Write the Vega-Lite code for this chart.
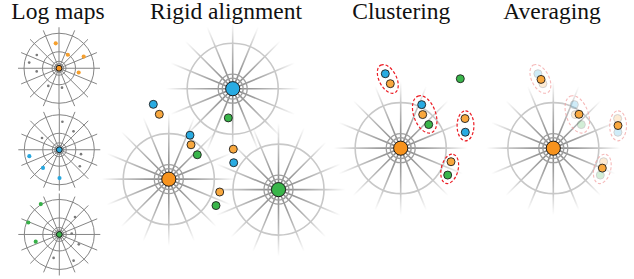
{
  "$schema": "https://vega.github.io/schema/vega-lite/v6.json",
  "width": 634,
  "height": 279,
  "autosize": {"type": "fit", "contains": "padding"},
  "padding": 0,
  "background": "white",
  "config": {"view": {"stroke": null}},
  "datasets": {
    "titles": [
      {"label": "Log maps", "x": 58, "y": 18.5},
      {"label": "Rigid alignment", "x": 226, "y": 18.5},
      {"label": "Clustering", "x": 401.3, "y": 18.5},
      {"label": "Averaging", "x": 552, "y": 18.5}
    ],
    "wheels": [
      {"kind": "log", "x": 59, "y": 67.5, "map": "orange", "spoke": 41, "r1": 4.5, "r2": 7, "r3": 16.5, "r4": 35},
      {"kind": "log", "x": 59.3, "y": 149.3, "map": "blue", "spoke": 41, "r1": 4.5, "r2": 7, "r3": 16.5, "r4": 35},
      {"kind": "log", "x": 59.3, "y": 234.3, "map": "green", "spoke": 41, "r1": 4.5, "r2": 7, "r3": 16.5, "r4": 35},
      {"kind": "soft", "x": 168.8, "y": 178.8, "map": "orange", "spoke": 67, "r1": 10.5, "r2": 14.5, "r3": null, "r4": 45.5},
      {"kind": "soft", "x": 278.5, "y": 189.3, "map": "green", "spoke": 67, "r1": 10.5, "r2": 14.5, "r3": null, "r4": 45.5},
      {"kind": "soft", "x": 232.7, "y": 88, "map": "blue", "spoke": 67, "r1": 10.5, "r2": 14.5, "r3": null, "r4": 45.5},
      {"kind": "soft", "x": 400.7, "y": 147.7, "map": "orange", "spoke": 67, "r1": 10.5, "r2": 14.5, "r3": null, "r4": 45.5},
      {"kind": "soft", "x": 553.3, "y": 147.7, "map": "orange", "spoke": 67, "r1": 10.5, "r2": 14.5, "r3": null, "r4": 45.5}
    ],
    "dots": [
      {"kind": "log", "map": "orange", "x": 55.7, "y": 42.5},
      {"kind": "log", "map": "orange", "x": 67.8, "y": 54},
      {"kind": "log", "map": "orange", "x": 83.7, "y": 55.8},
      {"kind": "log", "map": "orange", "x": 78.7, "y": 71.8},
      {"kind": "log", "map": "gray", "x": 36.8, "y": 54.2},
      {"kind": "log", "map": "gray", "x": 29.2, "y": 61.8},
      {"kind": "log", "map": "gray", "x": 36.7, "y": 70.7},
      {"kind": "log", "map": "gray", "x": 48.3, "y": 85.2},
      {"kind": "log", "map": "gray", "x": 62, "y": 87},
      {"kind": "log", "map": "gray", "x": 62.4, "y": 121.2},
      {"kind": "log", "map": "gray", "x": 73.5, "y": 130.8},
      {"kind": "log", "map": "gray", "x": 42, "y": 137.5},
      {"kind": "log", "map": "gray", "x": 81, "y": 153.7},
      {"kind": "log", "map": "gray", "x": 79.8, "y": 165.8},
      {"kind": "log", "map": "blue", "x": 29.3, "y": 155.7},
      {"kind": "log", "map": "blue", "x": 43, "y": 167.5},
      {"kind": "log", "map": "blue", "x": 59.5, "y": 177.7},
      {"kind": "log", "map": "green", "x": 40.8, "y": 203.8},
      {"kind": "log", "map": "green", "x": 28.3, "y": 222.3},
      {"kind": "log", "map": "green", "x": 35.7, "y": 241.5},
      {"kind": "log", "map": "gray", "x": 75, "y": 216.8},
      {"kind": "log", "map": "gray", "x": 71.7, "y": 233.3},
      {"kind": "log", "map": "gray", "x": 78.8, "y": 244.2},
      {"kind": "log", "map": "gray", "x": 53.6, "y": 257.8},
      {"kind": "log", "map": "gray", "x": 73.6, "y": 260.6},
      {"kind": "dot", "map": "blue", "x": 153.3, "y": 103.7},
      {"kind": "dot", "map": "orange", "x": 159.3, "y": 113.7},
      {"kind": "dot", "map": "green", "x": 228.3, "y": 117.3},
      {"kind": "dot", "map": "blue", "x": 190, "y": 134.7},
      {"kind": "dot", "map": "orange", "x": 191, "y": 144.3},
      {"kind": "dot", "map": "green", "x": 197.3, "y": 154.3},
      {"kind": "dot", "map": "orange", "x": 233.3, "y": 148.7},
      {"kind": "dot", "map": "blue", "x": 233.7, "y": 162.3},
      {"kind": "dot", "map": "orange", "x": 219.7, "y": 191.7},
      {"kind": "dot", "map": "green", "x": 216, "y": 205.3},
      {"kind": "dot", "map": "blue", "x": 385.3, "y": 73},
      {"kind": "dot", "map": "orange", "x": 390.3, "y": 83},
      {"kind": "dot", "map": "green", "x": 460.3, "y": 78},
      {"kind": "dot", "map": "blue", "x": 421.7, "y": 104},
      {"kind": "dot", "map": "orange", "x": 422.7, "y": 114},
      {"kind": "dot", "map": "green", "x": 428.7, "y": 124},
      {"kind": "dot", "map": "orange", "x": 465, "y": 118},
      {"kind": "dot", "map": "blue", "x": 465.3, "y": 131.7},
      {"kind": "dot", "map": "orange", "x": 451, "y": 161.3},
      {"kind": "dot", "map": "green", "x": 447.7, "y": 174.7},
      {"kind": "faded", "map": "blue", "x": 537.9, "y": 73},
      {"kind": "faded", "map": "orange", "x": 542.9, "y": 83},
      {"kind": "faded", "map": "blue", "x": 574.3, "y": 104},
      {"kind": "faded", "map": "orange", "x": 575.3, "y": 114},
      {"kind": "faded", "map": "green", "x": 581.3, "y": 124},
      {"kind": "faded", "map": "orange", "x": 617.6, "y": 118},
      {"kind": "faded", "map": "blue", "x": 617.9, "y": 131.7},
      {"kind": "faded", "map": "orange", "x": 603.6, "y": 161.3},
      {"kind": "faded", "map": "green", "x": 600.3, "y": 174.7},
      {"kind": "mean", "map": "orange", "x": 541, "y": 78.7},
      {"kind": "mean", "map": "orange", "x": 579, "y": 113.7},
      {"kind": "mean", "map": "orange", "x": 618, "y": 125},
      {"kind": "mean", "map": "orange", "x": 602.3, "y": 167.7}
    ],
    "ellipses": [
      {"kind": "cluster", "x": 387.8, "y": 78.2, "semi": 15.5, "angle": 63},
      {"kind": "cluster", "x": 424.7, "y": 113.8, "semi": 19.5, "angle": 70},
      {"kind": "cluster", "x": 465.5, "y": 125.3, "semi": 15, "angle": 90},
      {"kind": "cluster", "x": 449.7, "y": 168.5, "semi": 15, "angle": 104},
      {"kind": "faded", "x": 540.4, "y": 78.2, "semi": 15.5, "angle": 63},
      {"kind": "faded", "x": 577.3, "y": 113.8, "semi": 19.5, "angle": 70},
      {"kind": "faded", "x": 618.1, "y": 125.3, "semi": 15, "angle": 90},
      {"kind": "faded", "x": 602.3, "y": 168.5, "semi": 15, "angle": 104}
    ]
  },
  "encoding": {
    "x": {"field": "x", "type": "quantitative", "scale": {"domain": [0, 634], "nice": false, "zero": false}, "axis": null},
    "y": {"field": "y", "type": "quantitative", "scale": {"domain": [279, 0], "nice": false, "zero": false}, "axis": null}
  },
  "resolve": {"scale": {"fill": "independent"}},
  "layer": [
    {
      "data": {"name": "wheels"},
      "transform": [{"filter": "datum.kind == 'soft'"}],
      "mark": {
        "type": "point",
        "filled": false,
        "shape": "M-1,0L1,0M0,-1L0,1M-0.7071,-0.7071L0.7071,0.7071M-0.7071,0.7071L0.7071,-0.7071M-0.9239,-0.3827L0.9239,0.3827M-0.9239,0.3827L0.9239,-0.3827M-0.3827,-0.9239L0.3827,0.9239M-0.3827,0.9239L0.3827,-0.9239",
        "strokeWidth": 1.6,
        "opacity": 1,
        "stroke": {
          "gradient": "radial",
          "x1": 0.5, "y1": 0.5, "r1": 0,
          "x2": 0.5, "y2": 0.5, "r2": 0.5,
          "stops": [
            {"offset": 0, "color": "rgba(115,115,115,0.9)"},
            {"offset": 0.35, "color": "rgba(120,120,120,0.7)"},
            {"offset": 0.68, "color": "rgba(125,125,125,0.42)"},
            {"offset": 1, "color": "rgba(130,130,130,0)"}
          ]
        }
      },
      "encoding": {
        "size": {"field": "spoke", "type": "quantitative", "scale": {"type": "pow", "exponent": 2, "domain": [0, 100], "range": [0, 40000]}, "legend": null}
      }
    },
    {
      "data": {"name": "wheels"},
      "transform": [{"filter": "datum.kind == 'log'"}],
      "mark": {
        "type": "point",
        "filled": false,
        "shape": "M-1,0L1,0M0,-1L0,1M-0.7071,-0.7071L0.7071,0.7071M-0.7071,0.7071L0.7071,-0.7071M-0.9239,-0.3827L0.9239,0.3827M-0.9239,0.3827L0.9239,-0.3827M-0.3827,-0.9239L0.3827,0.9239M-0.3827,0.9239L0.3827,-0.9239",
        "strokeWidth": 1,
        "opacity": 1,
        "stroke": "#858585"
      },
      "encoding": {
        "size": {"field": "spoke", "type": "quantitative", "scale": {"type": "pow", "exponent": 2, "domain": [0, 100], "range": [0, 40000]}, "legend": null}
      }
    },
    {
      "data": {"name": "wheels"},
      "transform": [
        {"fold": ["r1", "r2", "r3", "r4"], "as": ["ring", "r"]},
        {"filter": "datum.r != null"}
      ],
      "mark": {"type": "point", "shape": "circle", "filled": false, "opacity": 1},
      "encoding": {
        "size": {"field": "r", "type": "quantitative", "scale": {"type": "pow", "exponent": 2, "domain": [0, 100], "range": [0, 40000]}, "legend": null},
        "stroke": {
          "condition": [
            {"test": "datum.kind == 'log'", "value": "#858585"},
            {"test": "datum.ring == 'r4'", "value": "#c8c8c8"}
          ],
          "value": "#9f9f9f"
        },
        "strokeWidth": {
          "condition": [
            {"test": "datum.kind == 'log'", "value": 1},
            {"test": "datum.ring == 'r4'", "value": 1.6}
          ],
          "value": 1.3
        }
      }
    },
    {
      "data": {"name": "wheels"},
      "mark": {"type": "point", "shape": "circle", "filled": true, "opacity": 1, "stroke": "#1a1a1a", "strokeWidth": 1},
      "encoding": {
        "fill": {"field": "map", "type": "nominal", "scale": {"domain": ["orange", "blue", "green"], "range": ["#f7931e", "#29abe2", "#39b54a"]}, "legend": null},
        "size": {"condition": {"test": "datum.kind == 'log'", "value": 34}, "value": 200}
      }
    },
    {
      "data": {"name": "dots"},
      "transform": [{"filter": "datum.kind == 'log'"}],
      "mark": {"type": "point", "shape": "circle", "filled": true, "opacity": 1},
      "encoding": {
        "fill": {"field": "map", "type": "nominal", "scale": {"domain": ["orange", "blue", "green", "gray"], "range": ["#f6a02e", "#27a7df", "#37b048", "#7a7a7a"]}, "legend": null},
        "size": {"condition": {"test": "datum.map == 'gray'", "value": 7}, "value": 17}
      }
    },
    {
      "data": {"name": "ellipses"},
      "transform": [{"filter": "datum.kind == 'faded'"}],
      "mark": {
        "type": "point",
        "filled": false,
        "shape": "M-1,0A1,0.56,0,1,1,1,0A1,0.56,0,1,1,-1,0Z",
        "stroke": "#f3a3a3",
        "strokeWidth": 1.1,
        "strokeDash": [3, 2],
        "opacity": 0.75
      },
      "encoding": {
        "size": {"field": "semi", "type": "quantitative", "scale": {"type": "pow", "exponent": 2, "domain": [0, 100], "range": [0, 40000]}, "legend": null},
        "angle": {"field": "angle", "type": "quantitative", "scale": {"domain": [0, 360], "range": [0, 360]}, "legend": null}
      }
    },
    {
      "data": {"name": "dots"},
      "transform": [{"filter": "datum.kind == 'faded'"}],
      "mark": {"type": "point", "shape": "circle", "filled": true, "size": 64, "stroke": "#222222", "strokeWidth": 0.9, "opacity": 0.22},
      "encoding": {
        "fill": {"field": "map", "type": "nominal", "scale": {"domain": ["orange", "blue", "green"], "range": ["#f9a83e", "#29abe2", "#39b54a"]}, "legend": null}
      }
    },
    {
      "data": {"name": "dots"},
      "transform": [{"filter": "datum.kind == 'dot' || datum.kind == 'mean'"}],
      "mark": {"type": "point", "shape": "circle", "filled": true, "size": 64, "stroke": "#1f1f1f", "strokeWidth": 0.9, "opacity": 1},
      "encoding": {
        "fill": {"field": "map", "type": "nominal", "scale": {"domain": ["orange", "blue", "green"], "range": ["#f9a83e", "#29abe2", "#39b54a"]}, "legend": null}
      }
    },
    {
      "data": {"name": "ellipses"},
      "transform": [{"filter": "datum.kind == 'cluster'"}],
      "mark": {
        "type": "point",
        "filled": false,
        "shape": "M-1,0A1,0.56,0,1,1,1,0A1,0.56,0,1,1,-1,0Z",
        "stroke": "#ec1c24",
        "strokeWidth": 1.2,
        "strokeDash": [3, 2],
        "opacity": 1
      },
      "encoding": {
        "size": {"field": "semi", "type": "quantitative", "scale": {"type": "pow", "exponent": 2, "domain": [0, 100], "range": [0, 40000]}, "legend": null},
        "angle": {"field": "angle", "type": "quantitative", "scale": {"domain": [0, 360], "range": [0, 360]}, "legend": null}
      }
    },
    {
      "data": {"name": "titles"},
      "mark": {"type": "text", "font": "Liberation Serif", "fontSize": 23.5, "align": "center", "baseline": "alphabetic", "color": "#111111"},
      "encoding": {
        "text": {"field": "label", "type": "nominal"}
      }
    }
  ]
}
